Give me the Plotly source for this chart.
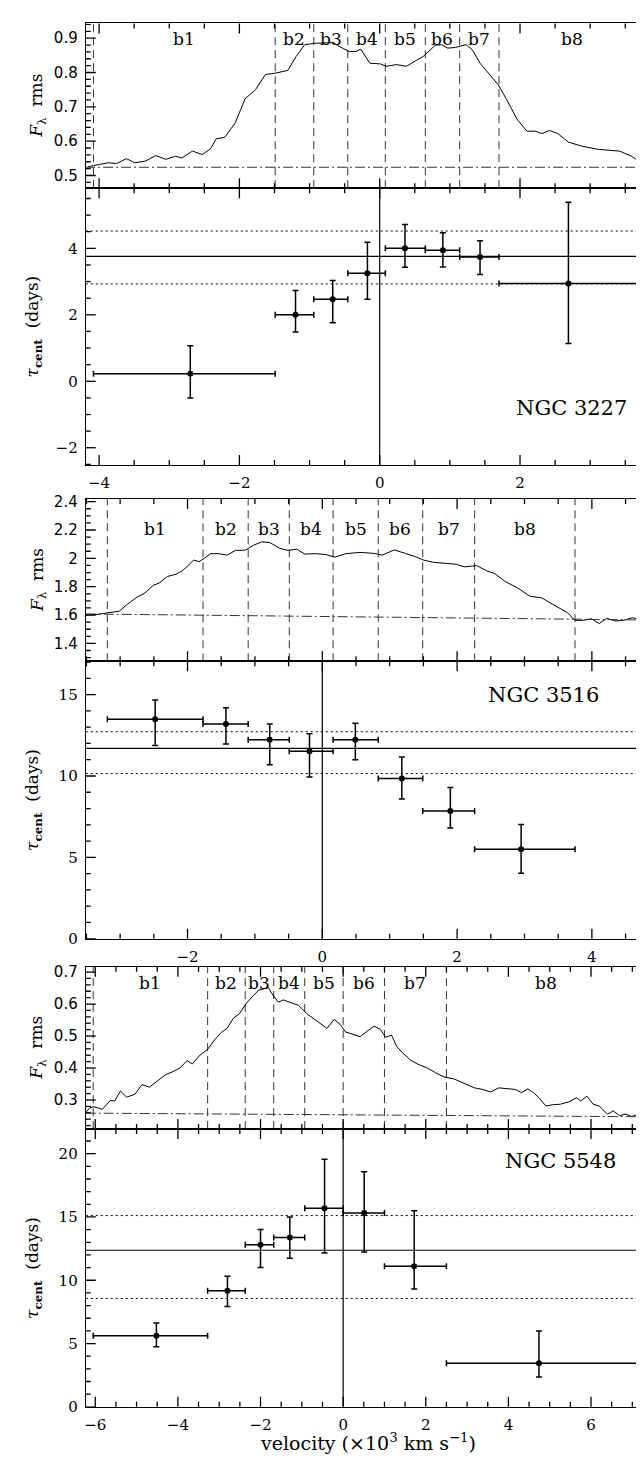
import math
import plotly.graph_objects as go

W, H = 644, 1459

# ---------------- data ----------------
names = ["NGC 3227", "NGC 3516", "NGC 5548"]

edges_3227 = [-4.08, -1.49, -0.94, -0.455, 0.08, 0.65, 1.14, 1.70, 3.77]
edges_3516 = [-3.19, -1.77, -1.10, -0.49, 0.16, 0.83, 1.49, 2.26, 3.75]
edges_5548 = [-6.05, -3.28, -2.37, -1.68, -0.93, 0.0, 1.0, 2.50, 7.33]

bin_labels = ["b1", "b2", "b3", "b4", "b5", "b6", "b7", "b8"]

vel_3227 = [-2.70, -1.20, -0.67, -0.175, 0.36, 0.90, 1.43, 2.69]
lag_3227 = [0.23, 2.00, 2.47, 3.25, 4.00, 3.94, 3.74, 2.94]
lag_hi_3227 = [1.07, 2.73, 3.03, 4.18, 4.72, 4.47, 4.23, 5.39]
lag_lo_3227 = [-0.50, 1.48, 1.76, 2.47, 3.43, 3.44, 3.21, 1.14]
mean_3227 = [3.76, 4.52, 2.93]

vel_3516 = [-2.48, -1.43, -0.78, -0.19, 0.49, 1.18, 1.90, 2.95]
lag_3516 = [13.49, 13.20, 12.23, 11.52, 12.23, 9.84, 7.85, 5.50]
lag_hi_3516 = [14.67, 14.20, 13.20, 12.60, 13.24, 11.16, 9.29, 7.02]
lag_lo_3516 = [11.87, 11.97, 10.69, 9.94, 11.00, 8.58, 6.80, 4.02]
mean_3516 = [11.70, 12.72, 10.15]

vel_5548 = [-4.52, -2.80, -2.00, -1.29, -0.45, 0.51, 1.72, 4.74]
lag_5548 = [5.61, 9.18, 12.81, 13.38, 15.68, 15.31, 11.11, 3.44]
lag_hi_5548 = [6.63, 10.31, 14.01, 15.00, 19.56, 18.57, 15.50, 6.00]
lag_lo_5548 = [4.75, 7.93, 11.01, 11.74, 12.16, 12.24, 9.31, 2.35]
mean_5548 = [12.37, 15.11, 8.56]

spec_x_3227 = [-4.16, -4.08, -3.87, -3.75, -3.61, -3.49, -3.34, -3.19, -3.05, -2.91, -2.82,
               -2.67, -2.53, -2.41, -2.33, -2.21, -2.06, -1.92, -1.77, -1.63, -1.49, -1.31,
               -1.19, -1.07, -0.93, -0.78, -0.66, -0.58, -0.43, -0.34, -0.27, -0.14, 0.01,
               0.09, 0.24, 0.38, 0.50, 0.62, 0.79, 0.88, 0.97, 1.08, 1.23, 1.32, 1.43, 1.58,
               1.69, 1.81, 1.96, 2.10, 2.22, 2.31, 2.42, 2.54, 2.69, 2.89, 3.12, 3.42, 3.59,
               3.79, 3.85]
spec_y_3227 = [0.525, 0.529, 0.537, 0.535, 0.549, 0.537, 0.542, 0.558, 0.547, 0.556, 0.551,
               0.571, 0.561, 0.578, 0.607, 0.611, 0.653, 0.723, 0.750, 0.794, 0.798, 0.806,
               0.847, 0.881, 0.885, 0.885, 0.887, 0.876, 0.861, 0.861, 0.868, 0.827, 0.825,
               0.818, 0.823, 0.818, 0.832, 0.847, 0.879, 0.881, 0.871, 0.873, 0.881, 0.866,
               0.827, 0.789, 0.764, 0.721, 0.663, 0.629, 0.629, 0.622, 0.631, 0.622, 0.597,
               0.585, 0.576, 0.571, 0.556, 0.528, 0.515]

spec_x_3516 = [-3.51, -3.33, -3.18, -3.01, -2.90, -2.75, -2.63, -2.51, -2.42, -2.30, -2.17,
               -2.08, -1.99, -1.91, -1.83, -1.75, -1.66, -1.54, -1.41, -1.29, -1.14, -1.02,
               -0.90, -0.78, -0.63, -0.50, -0.38, -0.26, -0.11, 0.04, 0.19, 0.35, 0.56, 0.77,
               0.89, 1.07, 1.23, 1.38, 1.50, 1.65, 1.83, 1.99, 2.11, 2.29, 2.44, 2.56, 2.71,
               2.90, 3.08, 3.26, 3.38, 3.53, 3.64, 3.75, 3.87, 3.99, 4.11, 4.22, 4.35, 4.47,
               4.60, 4.75, 4.87]
spec_y_3516 = [1.600, 1.605, 1.616, 1.628, 1.674, 1.726, 1.756, 1.809, 1.826, 1.872, 1.888,
               1.912, 1.949, 1.988, 1.977, 2.000, 2.033, 2.033, 2.023, 2.056, 2.058, 2.093,
               2.116, 2.112, 2.070, 2.056, 2.065, 2.030, 2.033, 2.028, 2.009, 2.033, 2.042,
               2.035, 2.023, 2.060, 2.035, 2.012, 1.988, 1.972, 1.965, 1.958, 1.940, 1.949,
               1.912, 1.893, 1.837, 1.791, 1.733, 1.721, 1.686, 1.647, 1.616, 1.563, 1.563,
               1.574, 1.540, 1.577, 1.558, 1.563, 1.581, 1.567, 1.577]

spec_x_5548 = [-6.23, -6.13, -6.03, -5.83, -5.63, -5.53, -5.39, -5.24, -5.04, -4.87, -4.69,
               -4.51, -4.30, -4.10, -3.95, -3.78, -3.65, -3.46, -3.29, -3.11, -2.96, -2.81,
               -2.66, -2.51, -2.34, -2.17, -2.04, -1.92, -1.82, -1.72, -1.57, -1.45, -1.28,
               -1.08, -0.88, -0.68, -0.53, -0.39, -0.22, -0.09, 0.06, 0.26, 0.41, 0.55, 0.75,
               0.90, 1.03, 1.17, 1.30, 1.45, 1.64, 1.84, 2.04, 2.24, 2.44, 2.68, 2.93, 3.18,
               3.38, 3.57, 3.77, 3.97, 4.17, 4.32, 4.47, 4.61, 4.76, 4.91, 5.06, 5.26, 5.46,
               5.65, 5.75, 5.90, 6.05, 6.20, 6.40, 6.54, 6.69, 6.84, 6.99, 7.19, 7.34, 7.44]
spec_y_5548 = [0.261, 0.276, 0.279, 0.271, 0.299, 0.297, 0.328, 0.309, 0.318, 0.348, 0.340,
               0.359, 0.379, 0.390, 0.400, 0.423, 0.413, 0.441, 0.457, 0.488, 0.510, 0.524,
               0.555, 0.570, 0.603, 0.627, 0.644, 0.647, 0.653, 0.632, 0.606, 0.613, 0.606,
               0.596, 0.570, 0.552, 0.539, 0.524, 0.552, 0.539, 0.513, 0.503, 0.498, 0.512,
               0.531, 0.521, 0.496, 0.503, 0.467, 0.446, 0.424, 0.410, 0.400, 0.385, 0.372,
               0.366, 0.352, 0.338, 0.333, 0.325, 0.338, 0.335, 0.333, 0.323, 0.335, 0.323,
               0.304, 0.281, 0.285, 0.287, 0.294, 0.307, 0.297, 0.312, 0.287, 0.281, 0.256,
               0.266, 0.251, 0.256, 0.248, 0.259, 0.253, 0.240]

cont_x_3227 = [-4.20, 3.87]
cont_y_3227 = [0.524, 0.524]
cont_x_3516 = [-3.51, 4.87]
cont_y_3516 = [1.608, 1.565]
cont_x_5548 = [-6.23, 7.44]
cont_y_5548 = [0.259, 0.2475]

xrange_list = [[-4.19, 3.86], [-3.51, 4.87], [-6.23, 7.44]]
spec_yrange = [[0.463, 0.943], [1.274, 2.419], [0.209, 0.7165]]
spec_dtick = [0.1, 0.2, 0.1]
spec_minor = [0.02, 0.05, 0.02]
lag_yrange = [[-2.52, 5.81], [0.0, 17.05], [0.0, 21.94]]
lag_dtick = [2, 5, 5]
lag_minor = [0.5, 1, 1]
x_dtick = 2
x_minor = 0.5
label_y = [0.898, 2.205, 0.665]
name_pos = [(3.56, -0.81), (4.14, 15.0), (6.66, 19.43)]

spec_px = [(9.5, 176.0), (490.0, 654.0), (962.7, 1126.7)]
lag_px = [(176.0, 455.7), (654.0, 934.3), (1126.7, 1407.3)]
x_px = (76.0, 642.5)

MAJ_LEN, MIN_LEN = 10, 5

# ---------------- figure ----------------
fig = go.Figure()
layout = dict(width=W, height=H, margin=dict(l=0, r=0, t=0, b=0), autosize=False,
              plot_bgcolor="white", paper_bgcolor="white", showlegend=False)


def ydom(top, bot):
    return [1 - bot / H, 1 - top / H]


xdom = [x_px[0] / W, x_px[1] / W]

sans = "DejaVu Sans"
serif = "DejaVu Serif"

all_edges = [edges_3227, edges_3516, edges_5548]
all_vel = [vel_3227, vel_3516, vel_5548]
all_lag = [lag_3227, lag_3516, lag_5548]
all_hi = [lag_hi_3227, lag_hi_3516, lag_hi_5548]
all_lo = [lag_lo_3227, lag_lo_3516, lag_lo_5548]
all_mean = [mean_3227, mean_3516, mean_5548]
all_sx = [spec_x_3227, spec_x_3516, spec_x_5548]
all_sy = [spec_y_3227, spec_y_3516, spec_y_5548]
all_cx = [cont_x_3227, cont_x_3516, cont_x_5548]
all_cy = [cont_y_3227, cont_y_3516, cont_y_5548]

base = dict(showline=True, linecolor="black", linewidth=1.1, mirror=True,
            ticks="", showgrid=False, zeroline=False, ticklabelstandoff=4)

shapes = []
annotations = []


def tick_values(rng, minor_step, major_step):
    out = []
    n0 = math.ceil(rng[0] / minor_step - 1e-9)
    n1 = math.floor(rng[1] / minor_step + 1e-9)
    for n in range(n0, n1 + 1):
        v = n * minor_step
        r = v / major_step
        out.append((v, abs(r - round(r)) < 1e-6))
    return out


def add_axis_ticks(xa, ya, xr, yr, xmin, xmaj, ymin, ymaj):
    ln = dict(color="black", width=1.3)
    for v, major in tick_values(xr, xmin, xmaj):
        L = MAJ_LEN if major else MIN_LEN
        for anchor, sgn in ((0, 1), (1, -1)):
            shapes.append(dict(type="line", xref=xa, x0=v, x1=v, yref=f"{ya} domain",
                               ysizemode="pixel", yanchor=anchor, y0=0, y1=sgn * L, line=ln))
    for v, major in tick_values(yr, ymin, ymaj):
        L = MAJ_LEN if major else MIN_LEN
        for anchor, sgn in ((0, 1), (1, -1)):
            shapes.append(dict(type="line", yref=ya, y0=v, y1=v, xref=f"{xa} domain",
                               xsizemode="pixel", xanchor=anchor, x0=0, x1=sgn * L, line=ln))


def xname(k):
    return "x" if k == 1 else f"x{k}"


def yname(k):
    return "y" if k == 1 else f"y{k}"


def xkey(k):
    return "xaxis" if k == 1 else f"xaxis{k}"


def ykey(k):
    return "yaxis" if k == 1 else f"yaxis{k}"


for i in range(3):
    sa = 2 * i + 1
    la = 2 * i + 2
    sx, sy, lx, ly = xname(sa), yname(sa), xname(la), yname(la)
    xr = xrange_list[i]

    layout[xkey(sa)] = dict(base, domain=xdom, anchor=sy, showticklabels=False, range=xr,
                            dtick=x_dtick, tick0=0)
    layout[ykey(sa)] = dict(base, domain=ydom(*spec_px[i]), anchor=sx, range=spec_yrange[i],
                            dtick=spec_dtick[i], tick0=0,
                            tickfont=dict(family=sans, size=15, color="black"))
    layout[xkey(la)] = dict(base, domain=xdom, anchor=ly, range=xr, dtick=x_dtick, tick0=0,
                            tickfont=dict(family=serif, size=15, color="black"))
    layout[ykey(la)] = dict(base, domain=ydom(*lag_px[i]), anchor=lx, range=lag_yrange[i],
                            dtick=lag_dtick[i], tick0=0,
                            tickfont=dict(family=serif, size=15, color="black"))

    add_axis_ticks(sx, sy, xr, spec_yrange[i], x_minor, x_dtick, spec_minor[i], spec_dtick[i])
    add_axis_ticks(lx, ly, xr, lag_yrange[i], x_minor, x_dtick, lag_minor[i], lag_dtick[i])

    fig.add_trace(go.Scatter(x=all_sx[i], y=all_sy[i], mode="lines", xaxis=sx, yaxis=sy,
                             line=dict(color="black", width=1)))
    fig.add_trace(go.Scatter(x=all_cx[i], y=all_cy[i], mode="lines", xaxis=sx, yaxis=sy,
                             line=dict(color="#333333", width=1, dash="10px,3px,2px,3px")))
    for e in all_edges[i]:
        shapes.append(dict(type="line", xref=sx, yref=f"{sy} domain", x0=e, x1=e, y0=0, y1=1,
                           layer="below",
                           line=dict(color="#333333", width=1, dash="8px,5px")))
    ed = all_edges[i]
    for k, lab in enumerate(bin_labels):
        annotations.append(dict(x=(ed[k] + ed[k + 1]) / 2, y=label_y[i], xref=sx, yref=sy,
                                text=lab, showarrow=False,
                                font=dict(family=serif, size=17, color="black")))

    m = all_mean[i]
    shapes.append(dict(type="line", xref=f"{lx} domain", yref=ly, x0=0, x1=1, y0=m[0], y1=m[0],
                       layer="below", line=dict(color="black", width=1.2)))
    for v in m[1:]:
        shapes.append(dict(type="line", xref=f"{lx} domain", yref=ly, x0=0, x1=1, y0=v, y1=v,
                           layer="below", line=dict(color="black", width=1, dash="2px,3px")))
    shapes.append(dict(type="line", xref=lx, yref=f"{ly} domain", x0=0, x1=0, y0=0, y1=1,
                       layer="below", line=dict(color="black", width=1.2)))

    vel = all_vel[i]
    lag = all_lag[i]
    ex_plus = [ed[k + 1] - vel[k] for k in range(8)]
    ex_minus = [vel[k] - ed[k] for k in range(8)]
    ey_plus = [all_hi[i][k] - lag[k] for k in range(8)]
    ey_minus = [lag[k] - all_lo[i][k] for k in range(8)]
    fig.add_trace(go.Scatter(
        x=vel, y=lag, mode="markers", xaxis=lx, yaxis=ly,
        marker=dict(color="black", size=6),
        error_x=dict(type="data", symmetric=False, array=ex_plus, arrayminus=ex_minus,
                     color="black", thickness=1.5, width=3),
        error_y=dict(type="data", symmetric=False, array=ey_plus, arrayminus=ey_minus,
                     color="black", thickness=1.5, width=3)))

    nx, ny = name_pos[i]
    annotations.append(dict(x=nx, y=ny, xref=lx, yref=ly, text=names[i], showarrow=False,
                            xanchor="right", yanchor="middle",
                            font=dict(family=serif, size=21, color="black")))

    s_mid = 1 - (spec_px[i][0] + spec_px[i][1]) / 2 / H
    l_mid = 1 - (lag_px[i][0] + lag_px[i][1]) / 2 / H
    annotations.append(dict(x=28 / W, y=s_mid, xref="paper", yref="paper", textangle=-90,
                            text="<i>F</i><sub>λ</sub>  rms", showarrow=False,
                            xanchor="center", yanchor="middle",
                            font=dict(family=serif, size=17, color="black")))
    annotations.append(dict(x=24 / W, y=l_mid, xref="paper", yref="paper", textangle=-90,
                            text="<i>τ</i><sub><b>cent</b></sub>  (days)", showarrow=False,
                            xanchor="center", yanchor="middle",
                            font=dict(family=serif, size=17, color="black")))

annotations.append(dict(x=(x_px[0] + x_px[1]) / 2 / W, y=1 - 1443 / H, xref="paper", yref="paper",
                        text="velocity (×10<sup>3</sup> km s<sup>−1</sup>)", showarrow=False,
                        xanchor="center", yanchor="middle",
                        font=dict(family=serif, size=19, color="black")))

layout["shapes"] = shapes
layout["annotations"] = annotations
fig.update_layout(**layout)
fig.write_html("out.html")
